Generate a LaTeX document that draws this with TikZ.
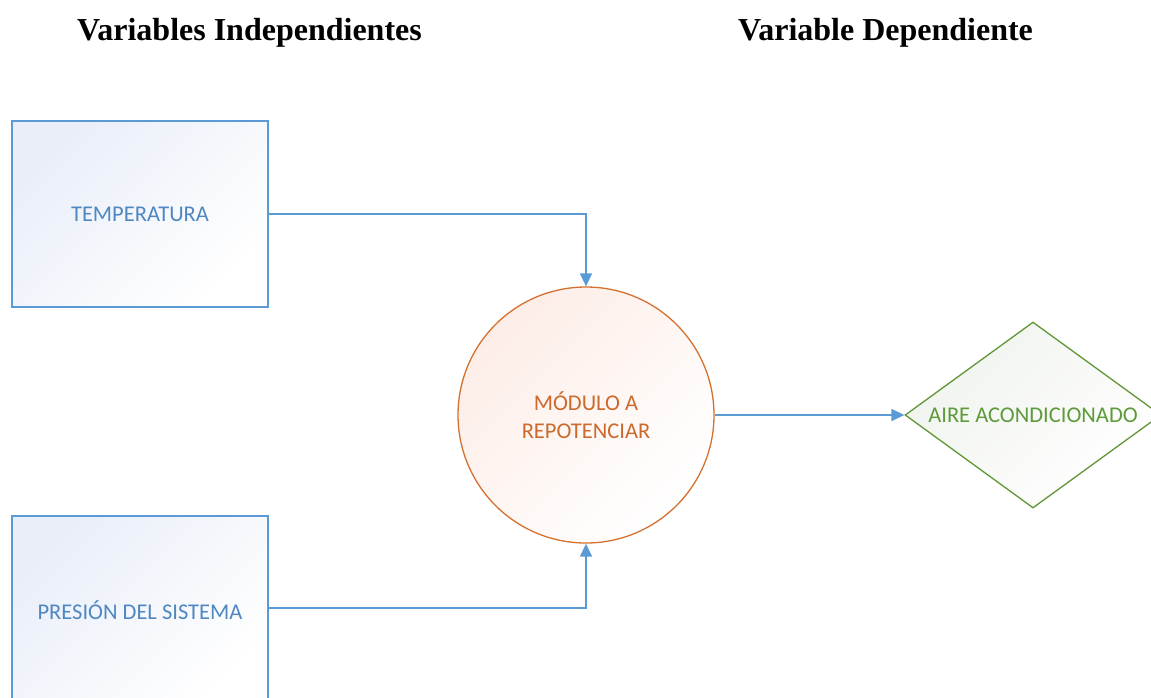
\documentclass[tikz,border=0pt]{standalone}
\usepackage{fontspec}
\setmainfont{Liberation Serif}
\newfontfamily\calib{Carlito}
\usetikzlibrary{shapes.geometric,arrows.meta}
\definecolor{bline}{HTML}{5B9BD5}
\definecolor{btext}{HTML}{4F87C2}
\definecolor{bfill}{HTML}{E9EEF8}
\definecolor{oline}{HTML}{D5702E}
\definecolor{otext}{HTML}{CB6A2C}
\definecolor{ofill}{HTML}{FDEDE7}
\definecolor{gline}{HTML}{5E9638}
\definecolor{gtext}{HTML}{5E9A3A}
\definecolor{gfill}{HTML}{F0F3EE}
\tikzset{
  varbox/.style={draw=bline, line width=1.3pt, minimum width=256pt, minimum height=186pt,
    top color=bfill, bottom color=white, shading angle=45, inner sep=0pt,
    font=\calib\fontsize{22.5}{26}\selectfont, text=btext},
  modcircle/.style={circle, draw=oline, line width=1.3pt, minimum size=256pt, inner sep=0pt,
    top color=ofill, bottom color=white, shading angle=45,
    font=\calib\fontsize{22.5}{28}\selectfont, text=otext, align=center},
  outdiamond/.style={diamond, draw=gline, line width=1.3pt, minimum width=256pt, minimum height=186pt,
    inner sep=0pt, top color=gfill, bottom color=white, shading angle=45},
  dlabel/.style={font=\calib\fontsize{22.5}{26}\selectfont, text=gtext},
  conn/.style={draw=bline, line width=1.5pt, -{Triangle[length=13pt,width=12pt]}},
  title/.style={font=\bfseries\fontsize{32}{36}\selectfont, anchor=base}
}
\begin{document}
\begin{tikzpicture}[x=1pt,y=-1pt]
\useasboundingbox (0,0) rectangle (1151,697);
\clip (0,0) rectangle (1151,697);
\node[title] (t1) at (249.5,40) {Variables Independientes};
\node[title] (t2) at (885.5,40) {Variable Dependiente};
\node[varbox] (temp) at (140,214) {TEMPERATURA};
\node[varbox, minimum height=188pt] (pres) at (140,610) {PRESIÓN DEL SISTEMA};
\node[modcircle] (mod) at (586,415) {MÓDULO A\\REPOTENCIAR};
\node[outdiamond] (aire) at (1033,415) {};
\node[dlabel] (airet) at (aire.center) {AIRE ACONDICIONADO};
\draw[conn] (temp.east) -| (mod.north);
\draw[conn] (pres.east |- 0,608) -| (mod.south);
\draw[conn] (mod.east) -- (aire.west);
\end{tikzpicture}
\end{document}
